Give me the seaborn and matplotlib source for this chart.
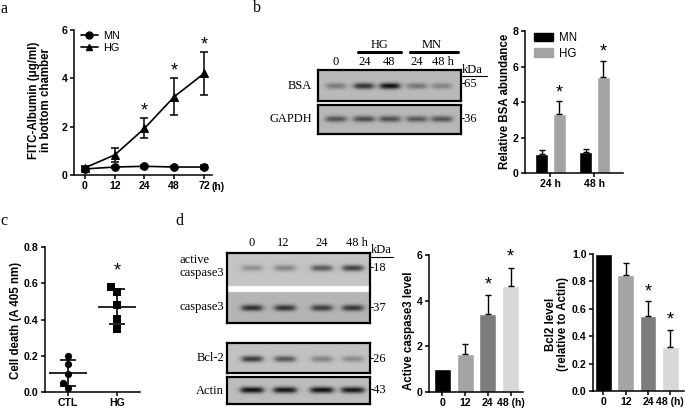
import numpy as np
import pandas as pd
import matplotlib
matplotlib.use('Agg')
import matplotlib.pyplot as plt
import seaborn as sns
from matplotlib.lines import Line2D
from matplotlib.patches import Patch

# ---------------- data ----------------
# panel a
a_times = ['0', '12', '24', '48', '72']
a_hg_mean = [0.30, 0.83, 1.93, 3.24, 4.20]
a_hg_err = [0.08, 0.30, 0.41, 0.76, 0.90]
a_mn_mean = [0.25, 0.33, 0.36, 0.33, 0.33]
a_mn_err = [0.10, 0.05, 0.07, 0.04, 0.09]
a_star = ['24', '48', '72']

# panel b (bar chart)
b_times = ['24 h', '48 h']
b_mn = [1.09, 1.16]
b_mn_err = [0.18, 0.19]
b_hg = [3.33, 5.43]
b_hg_err = [0.70, 0.88]

# panel b (blot)
b_lanes = ['0', '24', '48', '24', '48 h']
bsa_band = [0.35, 0.75, 0.95, 0.38, 0.30]
gapdh_band = [0.55, 0.60, 0.58, 0.52, 0.55]

# panel c
c_groups = ['CTL', 'HG']
c_ctl = [0.198, 0.152, 0.102, 0.050, 0.022]
c_hg = [0.577, 0.553, 0.479, 0.401, 0.348]

# panel d (blots)
d_lanes = ['0', '12', '24', '48 h']
act_casp_band = [0.28, 0.35, 0.60, 0.72]
casp_band = [0.75, 0.72, 0.68, 0.70]
bcl2_band = [0.75, 0.60, 0.35, 0.30]
actin_band = [0.95, 0.92, 0.95, 0.92]

# panel d (bar charts)
d_times = ['0', '12', '24', '48 (h)']
d_casp = [1.00, 1.68, 3.40, 4.65]
d_casp_err = [0.0, 0.41, 0.84, 0.80]
d_bcl2 = [1.00, 0.845, 0.545, 0.32]
d_bcl2_err = [0.0, 0.086, 0.11, 0.125]
d_colors = ['#000000', '#a4a4a4', '#7c7c7c', '#d8d8d8']

# ---------------- style ----------------
sns.set_theme(style='ticks')
plt.rcParams['font.family'] = ['Liberation Sans', 'DejaVu Sans']
plt.rcParams.update({
    'font.weight': 'bold',
    'axes.labelweight': 'bold',
    'axes.linewidth': 1.1,
    'xtick.major.width': 1.1, 'ytick.major.width': 1.1,
    'xtick.major.size': 3, 'ytick.major.size': 3,
    'xtick.major.pad': 1.5, 'ytick.major.pad': 1.5,
    'xtick.labelsize': 7.6, 'ytick.labelsize': 7.6,
    'axes.labelsize': 8.3,
    'xtick.color': 'black', 'ytick.color': 'black',
    'axes.edgecolor': 'black', 'text.color': 'black',
})
SERIF = ['Liberation Serif', 'DejaVu Serif']

W, H = 685, 409
fig = plt.figure(figsize=(W / 100, H / 100), dpi=100)


def add_ax(x0, y0, x1, y1):
    return fig.add_axes([x0 / W, 1 - y1 / H, (x1 - x0) / W, (y1 - y0) / H])


def ftext(x, y, s, **kw):
    fig.text(x / W, 1 - y / H, s, **kw)


def fline(x0, x1, y, lw=1.0):
    fig.add_artist(Line2D([x0 / W, x1 / W], [1 - y / H, 1 - y / H], color='black', lw=lw))


def star(ax, x, y):
    ax.text(x, y, '*', ha='center', va='center', fontsize=13, fontweight='normal', color='black')


def ylab(x, y, s):
    ftext(x, y, s, rotation=90, ha='center', va='center', fontsize=8.3, fontweight='bold', linespacing=1.05)


# ---------------- panel a ----------------
ax = add_ax(74, 30, 212, 175)
df_a = pd.DataFrame({
    'pos': list(range(len(a_times))) * 2,
    'value': a_mn_mean + a_hg_mean,
    'group': ['MN'] * len(a_times) + ['HG'] * len(a_times),
})
sns.lineplot(data=df_a, x='pos', y='value', hue='group', style='group',
             markers={'MN': 'o', 'HG': '^'}, dashes=False,
             palette={'MN': 'black', 'HG': 'black'}, markersize=5.5,
             markeredgecolor='black', lw=1.2, ax=ax, legend=False)
pos = np.arange(len(a_times))
ax.errorbar(pos, a_hg_mean, yerr=a_hg_err, fmt='none', ecolor='black', elinewidth=1.1, capsize=3, capthick=1.1)
ax.errorbar(pos, a_mn_mean, yerr=a_mn_err, fmt='none', ecolor='black', elinewidth=1.1, capsize=3, capthick=1.1)
for t in a_star:
    i = a_times.index(t)
    star(ax, i, a_hg_mean[i] + a_hg_err[i] + 0.3)
ax.set_ylim(0, 6)
ax.set_yticks([0, 2, 4, 6])
ax.set_xlim(-0.37, 4.27)
ax.set_xticks(pos)
ax.set_xticklabels(a_times)
ax.set_xlabel('')
ax.set_ylabel('')
sns.despine(ax=ax)
ax.text(4.47, -0.5, '(h)', ha='center', va='center', fontsize=7.6, fontweight='bold')
handles = [Line2D([], [], color='black', marker='o', lw=1.2, ms=5),
           Line2D([], [], color='black', marker='^', lw=1.2, ms=5)]
ax.legend(handles, ['MN', 'HG'], loc='upper left', bbox_to_anchor=(0.0, 1.04), frameon=False,
          prop={'weight': 'normal', 'size': 7.8}, handlelength=1.6, handletextpad=0.5,
          labelspacing=0.2, borderaxespad=0.2)
ylab(40, 100, 'FITC-Albumin (\u03bcg/ml)\nin bottom chamber')

# ---------------- panel b bar ----------------
ax = add_ax(525, 31, 623, 173)
df_b = pd.DataFrame({
    'time': b_times * 2,
    'value': b_mn + b_hg,
    'group': ['MN'] * 2 + ['HG'] * 2,
})
sns.barplot(data=df_b, x='time', y='value', hue='group', order=b_times, hue_order=['MN', 'HG'],
            palette={'MN': 'black', 'HG': '#a3a3a3'}, width=0.8, gap=0.25, errorbar=None,
            legend=False, ax=ax)
bx = np.arange(len(b_times))
ax.errorbar(bx - 0.2, b_mn, yerr=[np.zeros(2), b_mn_err], fmt='none', ecolor='black', elinewidth=1.0, capsize=2.5, capthick=1.0)
ax.errorbar(bx + 0.2, b_hg, yerr=[np.zeros(2), b_hg_err], fmt='none', ecolor='black', elinewidth=1.0, capsize=2.5, capthick=1.0)
for i in range(2):
    star(ax, i + 0.2, b_hg[i] + b_hg_err[i] + 0.5)
ax.set_ylim(0, 8)
ax.set_yticks([0, 2, 4, 6, 8])
ax.set_xlim(-0.58, 1.65)
ax.set_xlabel('')
ax.set_ylabel('')
sns.despine(ax=ax)
ax.legend([Patch(color='black'), Patch(color='#a3a3a3')], ['MN', 'HG'], loc='upper left',
          bbox_to_anchor=(0.02, 1.04), frameon=False, prop={'weight': 'normal', 'size': 8.3},
          handlelength=1.7, handleheight=0.75, handletextpad=0.5, labelspacing=0.3, borderaxespad=0.2)
ylab(505, 101, 'Relative BSA abundance')


# ---------------- blots ----------------
def blot(x0, y0, x1, y1, bands, bg=0.74, white=None, bg2=None):
    axb = add_ax(x0, y0, x1, y1)
    res = 3
    xs = np.linspace(x0, x1, int((x1 - x0) * res))
    ys = np.linspace(y0, y1, int((y1 - y0) * res))
    X, Y = np.meshgrid(xs, ys)
    img = np.full(X.shape, bg)
    if white is not None and bg2 is not None:
        img[Y > white[1]] = bg2
    for cx, cy, inten, w in bands:
        pxp = 1 / (1 + np.exp((np.abs(X - cx) - w / 2) / 1.8))
        pyp = np.exp(-0.5 * ((Y - cy) / 2.2) ** 2)
        img -= inten * 0.72 * pxp * pyp
    if white is not None:
        img[(Y >= white[0]) & (Y <= white[1])] = 1.0
    axb.imshow(np.clip(img, 0, 1), cmap='gray', vmin=0, vmax=1, extent=(x0, x1, y1, y0),
               aspect='auto', interpolation='bilinear')
    axb.set_xlim(x0, x1)
    axb.set_ylim(y1, y0)
    axb.set_xticks([])
    axb.set_yticks([])
    for s in axb.spines.values():
        s.set_visible(True)
        s.set_linewidth(1.6)
        s.set_color('black')
    return axb


b_lane_x = [336, 364, 390, 417, 442]
blot(318, 70, 461, 101, [(x, 86, v, 19) for x, v in zip(b_lane_x, bsa_band)], bg=0.73)
blot(318, 105, 461, 134, [(x, 119, v, 20) for x, v in zip(b_lane_x, gapdh_band)], bg=0.72)

tk = dict(fontfamily=SERIF, fontweight='normal', fontsize=9, va='center')
for x, s in zip([336, 365, 389, 417, 443], b_lanes):
    ftext(x, 62, s, ha='center', **tk)
ftext(380, 45, 'HG', ha='center', **tk)
ftext(432, 45, 'MN', ha='center', **tk)
fline(358, 401, 52, lw=2.2)
fline(410, 458, 52, lw=2.2)
ftext(312, 86, 'BSA', ha='right', **tk)
ftext(312, 119, 'GAPDH', ha='right', **tk)
ftext(462, 70, 'kDa', ha='left', **tk)
fline(462, 487, 76, lw=0.8)
ftext(461, 84, '-65', ha='left', **tk)
ftext(461, 119, '-36', ha='left', **tk)

d_lane_x = [252, 285, 322, 353]
blot(227, 253, 370, 323,
     [(x, 268, v, 20) for x, v in zip(d_lane_x, act_casp_band)] +
     [(x, 308, v, 20) for x, v in zip(d_lane_x, casp_band)],
     bg=0.77, white=(286, 292), bg2=0.71)
blot(227, 343, 370, 373, [(x, 359, v, 20) for x, v in zip(d_lane_x, bcl2_band)], bg=0.76)
blot(227, 377, 370, 404, [(x, 390, v, 22) for x, v in zip(d_lane_x, actin_band)], bg=0.74)

for x, s in zip([252, 283, 322, 357], d_lanes):
    ftext(x, 243, s, ha='center', **tk)
ftext(180, 260, 'active', ha='left', **tk)
ftext(180, 273, 'caspase3', ha='left', **tk)
ftext(224, 307, 'caspase3', ha='right', **tk)
ftext(224, 358, 'Bcl-2', ha='right', **tk)
ftext(224, 391, 'Actin', ha='right', **tk)
ftext(371, 250, 'kDa', ha='left', **tk)
fline(370, 393, 257, lw=0.8)
for y, s in zip([268, 308, 359, 390], ['-18', '-37', '-26', '-43']):
    ftext(370, y, s, ha='left', **tk)

# ---------------- panel c ----------------
ax = add_ax(45, 247, 140, 392)
df_c = pd.DataFrame({'group': ['CTL'] * len(c_ctl) + ['HG'] * len(c_hg), 'value': c_ctl + c_hg})
sns.swarmplot(data=df_c[df_c.group == 'CTL'], x='group', y='value', order=c_groups, color='black',
              marker='o', size=5.2, ax=ax)
sns.swarmplot(data=df_c[df_c.group == 'HG'], x='group', y='value', order=c_groups, color='black',
              marker='s', size=5.2, ax=ax)
for i, vals in enumerate([c_ctl, c_hg]):
    m = np.mean(vals)
    sd = np.std(vals, ddof=1)
    ax.hlines(m, i - 0.39, i + 0.39, color='black', lw=1.2, zorder=5)
    ax.vlines(i, m - sd, m + sd, color='black', lw=1.2, zorder=5)
    ax.hlines([m - sd, m + sd], i - 0.17, i + 0.17, color='black', lw=1.2, zorder=5)
star(ax, 1, 0.67)
ax.set_ylim(0, 0.8)
ax.set_yticks([0, 0.2, 0.4, 0.6, 0.8])
ax.set_yticklabels(['0.0', '0.2', '0.4', '0.6', '0.8'])
ax.set_xlim(-0.47, 1.47)
ax.set_xlabel('')
ax.set_ylabel('')
sns.despine(ax=ax)
ylab(16, 320, 'Cell death (A 405 nm)')

# ---------------- panel d caspase3 bars ----------------
ax = add_ax(429, 255, 523, 392)
df_d1 = pd.DataFrame({'time': d_times, 'value': d_casp})
sns.barplot(data=df_d1, x='time', y='value', hue='time', order=d_times, hue_order=d_times,
            palette=d_colors, width=0.75, errorbar=None, legend=False, ax=ax)
dx = np.arange(len(d_times))
ax.errorbar(dx[1:], d_casp[1:], yerr=[np.zeros(3), d_casp_err[1:]], fmt='none', ecolor='black',
            elinewidth=1.0, capsize=2.5, capthick=1.0)
for i in [2, 3]:
    star(ax, i, d_casp[i] + d_casp_err[i] + 0.45)
ax.set_ylim(0, 6)
ax.set_yticks([0, 2, 4, 6])
ax.set_xlim(-0.59, 3.55)
ax.set_xlabel('')
ax.set_ylabel('')
sns.despine(ax=ax)
ylab(409, 331, 'Active caspase3 level')

# ---------------- panel d Bcl2 bars ----------------
ax = add_ax(593, 254, 684, 391)
df_d2 = pd.DataFrame({'time': d_times, 'value': d_bcl2})
sns.barplot(data=df_d2, x='time', y='value', hue='time', order=d_times, hue_order=d_times,
            palette=d_colors, width=0.75, errorbar=None, legend=False, ax=ax)
ax.errorbar(dx[1:], d_bcl2[1:], yerr=[np.zeros(3), d_bcl2_err[1:]], fmt='none', ecolor='black',
            elinewidth=1.0, capsize=2.5, capthick=1.0)
for i in [2, 3]:
    star(ax, i, d_bcl2[i] + d_bcl2_err[i] + 0.07)
ax.set_ylim(0, 1.0)
ax.set_yticks([0, 0.2, 0.4, 0.6, 0.8, 1.0])
ax.set_yticklabels(['0.0', '0.2', '0.4', '0.6', '0.8', '1.0'])
ax.set_xlim(-0.47, 3.62)
ax.set_xlabel('')
ax.set_ylabel('')
sns.despine(ax=ax)
ylab(557, 324, 'Bcl2 level\n(relative to Actin)')

# ---------------- panel letters ----------------
for x, y, s in [(4, 9, 'a'), (257, 8, 'b'), (4, 221, 'c'), (179, 221, 'd')]:
    ftext(x, y, s, ha='center', va='center', fontfamily=SERIF, fontweight='normal', fontsize=11.5)

fig.savefig('out.png', dpi=100)
